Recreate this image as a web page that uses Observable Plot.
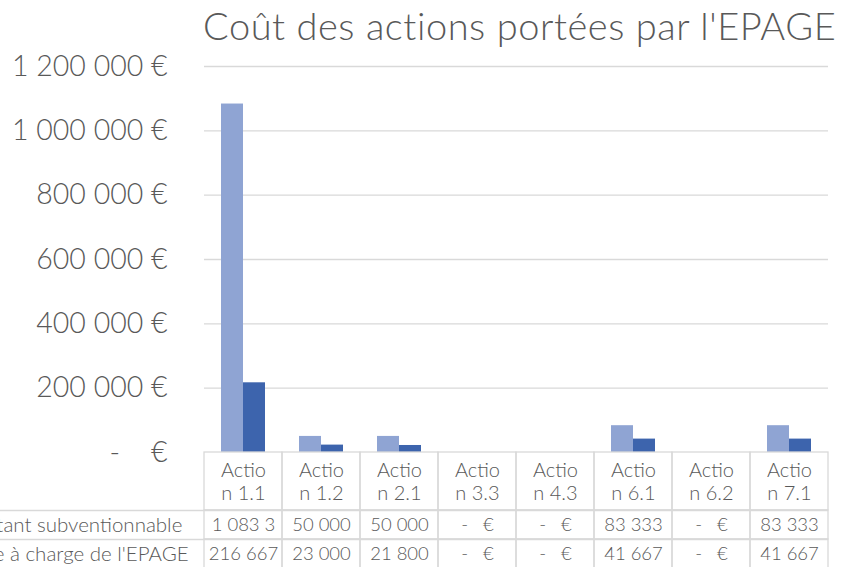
<!DOCTYPE html>
<html><head><meta charset="utf-8">
<script src="https://cdn.jsdelivr.net/npm/d3@7"></script>
<script src="https://cdn.jsdelivr.net/npm/@observablehq/plot@0.6"></script>
<style>
body{margin:0;background:#fff;}
#wrap{position:relative;width:841px;height:567px;overflow:hidden;font-family:Lato,sans-serif;font-weight:300;color:#595959;background:#fff;}
#title{position:absolute;left:203px;top:2px;font-size:38px;letter-spacing:0.55px;white-space:nowrap;color:#595959;font-weight:300;}
#chart{position:absolute;left:0;top:0;}
#table{position:absolute;left:0;top:451px;}
svg{display:block;overflow:visible;}
#table text.rowlabel{letter-spacing:1.2px;}
</style></head><body>
<div id="wrap"><div id="title">Coût des actions portées par l'EPAGE</div><div id="chart"></div><div id="table"></div></div>
<script>
const actions = ["Action 1.1","Action 1.2","Action 2.1","Action 3.3","Action 4.3","Action 6.1","Action 6.2","Action 7.1"];
const seriesNames = ["Montant subventionnable","Reste à charge de l'EPAGE"];
const montant = [1083333,50000,50000,0,0,83333,0,83333];
const reste = [216667,23000,21800,0,0,41667,0,41667];
const yTicks = [0,200000,400000,600000,800000,1000000,1200000];
const colors = ["#8FA4D3","#3D64AD"];

const FONT = "Lato, sans-serif";
const TXT = "#595959", GRID = "#D9D9D9";
const ML = 203, MR = 13;

const data = actions.flatMap((a,i)=>[
  {action:a, series:seriesNames[0], value:montant[i]},
  {action:a, series:seriesNames[1], value:reste[i]}
]);
const loc = d3.formatLocale({thousands:"\u00a0", grouping:[3], decimal:",", currency:["","\u00a0€"]});
const f = loc.format(",d");
const yfmt = d => d === 0 ? "-\u00a0\u00a0\u00a0\u00a0€" : f(d) + "\u00a0€";
const cellfmt = d => {
  if (d === 0) return "-\u00a0\u00a0\u00a0€";
  const s = f(d);
  return s.length > 7 ? s.slice(0,7) : s; // Excel cell overflow clipping
};

const chart = Plot.plot({
  width: 841, height: 453, marginTop: 66, marginBottom: 1, marginLeft: ML, marginRight: MR,
  style: {fontFamily: FONT, fontWeight: 300, color: TXT, background: "transparent", overflow: "visible"},
  fx: {domain: actions, padding: 0, axis: null},
  x: {domain: seriesNames, paddingInner: 0, paddingOuter: 0.77, axis: null},
  y: {domain: [0, 1200000]},
  color: {domain: seriesNames, range: colors},
  marks: [
    Plot.ruleY(yTicks.filter(d => d > 0), {stroke: GRID, strokeWidth: 1.3}),
    Plot.axisY({ticks: yTicks, tickSize: 0, tickPadding: 37, tickFormat: yfmt, fontSize: 28.5, fill: TXT, label: null}),
    Plot.barY(data, {fx: "action", x: "series", y: "value", fill: "series", insetLeft: 0, insetRight: 0})
  ]
});
document.getElementById("chart").append(chart);

const rows = seriesNames.map((name, i) => ({name, vals: i === 0 ? montant : reste, top: 2 + i}));
const cells = rows.flatMap(r => actions.map((a, j) => ({action: a, top: r.top, text: cellfmt(r.vals[j])})));

const table = Plot.plot({
  width: 841, height: 117, marginTop: 1, marginBottom: 0, marginLeft: ML, marginRight: MR,
  style: {fontFamily: FONT, fontWeight: 300, color: TXT, background: "transparent", overflow: "visible"},
  x: {domain: actions, padding: 0, axis: null},
  y: {domain: [0, 4], reverse: true, axis: null},
  marks: [
    Plot.ruleY([2, 3, 4], {stroke: GRID, strokeWidth: 1.3, insetLeft: -ML}),
    Plot.barY(actions, {x: d => d, y1: 0, y2: 2, fill: "none", stroke: GRID, strokeWidth: 1.3, insetLeft: 0, insetRight: 0}),
    Plot.barY(cells, {x: "action", y1: "top", y2: d => d.top + 1, fill: "none", stroke: GRID, strokeWidth: 1.3, insetLeft: 0, insetRight: 0}),
    Plot.text(actions, {x: d => d, y: 1, text: d => d.slice(0, 5) + "\n" + d.slice(5), fontSize: 20, lineHeight: 1.15, fill: TXT}),
    Plot.text(cells, {x: "action", y: d => d.top + 0.5, text: "text", fontSize: 18.5, fill: TXT}),
    Plot.text(rows, {y: d => d.top + 0.5, text: "name", frameAnchor: "left", textAnchor: "start", dx: -248, fontSize: 20.5, fill: TXT, className: "rowlabel"})
  ]
});
document.getElementById("table").append(table);
</script>
</body></html>
